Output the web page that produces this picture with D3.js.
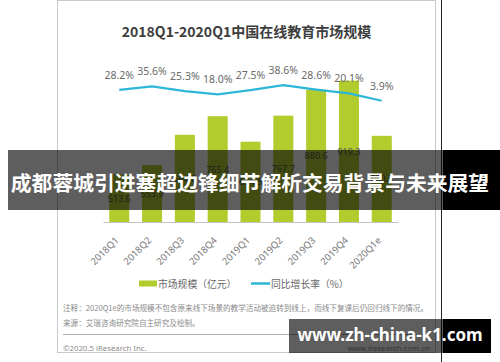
<!DOCTYPE html>
<html>
<head>
<meta charset="utf-8">
<script src="https://cdn.jsdelivr.net/npm/d3@7"></script>
<style>
  html, body { margin: 0; padding: 0; background: #ffffff; }
  svg { display: block; font-family: "Noto Sans CJK SC", "Noto Sans", sans-serif; }
</style>
</head>
<body>
<svg id="chart" width="500" height="362"></svg>
<script>
// ---- data ----
const title = "2018Q1-2020Q1中国在线教育市场规模";
const categories = ["2018Q1", "2018Q2", "2018Q3", "2018Q4", "2019Q1", "2019Q2", "2019Q3", "2019Q4", "2020Q1e"];
const marketSize = [513.6, 553.9, 684.8, 765.4, 654.8, 767.7, 880.6, 919.3, 680.3];
const growthRate = [28.2, 35.6, 25.3, 18.0, 27.5, 38.6, 28.6, 20.1, 3.9];
const legendLabels = ["市场规模（亿元）", "同比增长率（%）"];
const noteLines = [
  "注释：2020Q1e的市场规模不包含原来线下场景的教学活动被迫转到线上，而线下复课后仍回归线下的情况。",
  "来源：艾瑞咨询研究院自主研究及绘制。"
];
const copyrightText = "©2020.5 iResearch Inc.";
const siteText = "www.iresearch.com.cn";
const bannerText = "成都蓉城引进塞超边锋细节解析交易背景与未来展望";
const watermarkText = "www.zh-china-k1.com";

// ---- styles ----
const barColor = "#b2cc2e";
const lineColor = "#2db6d8";

const svg = d3.select("#chart");

// card frame
svg.append("rect").attr("x", 57.5).attr("y", 0.5).attr("width", 378).attr("height", 352)
  .attr("fill", "#fff").attr("stroke", "#c9c9c9").attr("stroke-width", 1);
svg.append("line").attr("x1", 441.5).attr("x2", 441.5).attr("y1", 0).attr("y2", 362)
  .attr("stroke", "#222").attr("stroke-width", 1);

// title
svg.append("text").attr("x", 246.5).attr("y", 37).attr("text-anchor", "middle")
  .attr("font-size", 14).attr("font-weight", "bold").attr("fill", "#3d3d3d").text(title);

// scales
const plotLeft = 103, plotRight = 398, plotBottom = 222;
const x = d3.scaleBand().domain(categories).range([plotLeft, plotRight])
  .paddingInner(0.39).paddingOuter(0.19);
const yBar = d3.scaleLinear().domain([307, 1000]).range([plotBottom, 62]);
const yLine = d3.scaleLinear().domain([0, 100]).range([102.5, 57.5]);

// bars
const barData = categories.map((c, i) => ({ c, v: marketSize[i], g: growthRate[i] }));
svg.append("g").selectAll("rect").data(barData).join("rect")
  .attr("x", d => x(d.c)).attr("width", x.bandwidth())
  .attr("y", d => yBar(d.v)).attr("height", d => plotBottom - yBar(d.v))
  .attr("fill", barColor);

// bar value labels (middle of bar)
svg.append("g").selectAll("text").data(barData).join("text")
  .attr("x", d => x(d.c) + x.bandwidth() / 2)
  .attr("y", d => (yBar(d.v) + plotBottom) / 2 + 3.5)
  .attr("text-anchor", "middle").attr("font-size", 9).attr("fill", "#555")
  .attr("font-family", "'Noto Sans', sans-serif")
  .text(d => d.v.toFixed(1));

// x axis
const xAxis = d3.axisBottom(x).tickSize(0).tickSizeOuter(0);
const gx = svg.append("g").attr("transform", `translate(0,${plotBottom})`).call(xAxis);
gx.select(".domain").attr("stroke", "#c4c4c4").attr("stroke-width", 1.2);
gx.selectAll(".tick text")
  .attr("x", 0).attr("y", 0).attr("dy", 0)
  .attr("transform", "translate(0,19) rotate(-45)")
  .attr("text-anchor", "end")
  .attr("font-size", 9.5).attr("fill", "#777")
  .attr("font-family", "'Noto Sans', sans-serif");

// growth line
const line = d3.line().x(d => x(d.c) + x.bandwidth() / 2).y(d => yLine(d.g));
svg.append("path").datum(barData).attr("d", line)
  .attr("fill", "none").attr("stroke", lineColor).attr("stroke-width", 2.2);

// growth labels
svg.append("g").selectAll("text").data(barData).join("text")
  .attr("x", d => x(d.c) + x.bandwidth() / 2)
  .attr("y", d => yLine(d.g) - 11)
  .attr("text-anchor", "middle").attr("font-size", 10.5).attr("fill", "#6b6b6b")
  .attr("font-family", "'Noto Sans', sans-serif")
  .text(d => d.g.toFixed(1) + "%");

// legend
const lg = svg.append("g");
lg.append("rect").attr("x", 139).attr("y", 280.5).attr("width", 18).attr("height", 6).attr("fill", barColor);
lg.append("text").attr("x", 158).attr("y", 287.5).attr("font-size", 9.8).attr("fill", "#666").text(legendLabels[0]);
lg.append("line").attr("x1", 251).attr("x2", 270).attr("y1", 283.5).attr("y2", 283.5)
  .attr("stroke", lineColor).attr("stroke-width", 2.5);
lg.append("text").attr("x", 271).attr("y", 287.5).attr("font-size", 9.8).attr("fill", "#666").text(legendLabels[1]);

// notes
svg.append("g").selectAll("text").data(noteLines).join("text")
  .attr("x", 63).attr("y", (d, i) => 311 + i * 15)
  .attr("font-size", 7.6).attr("fill", "#8a8a8a").text(d => d);
svg.append("line").attr("x1", 63).attr("x2", 430).attr("y1", 334.5).attr("y2", 334.5)
  .attr("stroke", "#9a9a9a").attr("stroke-width", 0.8);
svg.append("text").attr("x", 63).attr("y", 351).attr("font-size", 7.8).attr("fill", "#8a8a8a")
  .attr("font-family", "'Noto Sans', sans-serif").text(copyrightText);
svg.append("text").attr("x", 430).attr("y", 351).attr("text-anchor", "end").attr("font-size", 7.8)
  .attr("fill", "#8a8a8a").attr("font-family", "'Noto Sans', sans-serif").text(siteText);

// overlay banner
svg.append("rect").attr("x", 8).attr("y", 150).attr("width", 435).attr("height", 60)
  .attr("fill", "rgba(0,0,0,0.63)");
svg.append("rect").attr("x", 443).attr("y", 150).attr("width", 57).attr("height", 60).attr("fill", "#000");
svg.append("text").attr("x", 250).attr("y", 190.5).attr("text-anchor", "middle")
  .attr("font-size", 20.8).attr("font-weight", "bold").attr("fill", "#fff").text(bannerText);

// watermark
svg.append("rect").attr("x", 289).attr("y", 319).attr("width", 154).attr("height", 34)
  .attr("fill", "rgba(0,0,0,0.63)");
svg.append("rect").attr("x", 443).attr("y", 319).attr("width", 48).attr("height", 34).attr("fill", "#000");
svg.append("text").attr("x", 390).attr("y", 341).attr("text-anchor", "middle")
  .attr("font-size", 17).attr("font-weight", "bold").attr("fill", "#fff")
  .attr("font-family", "'Noto Sans', sans-serif").text(watermarkText);
</script>
</body>
</html>
